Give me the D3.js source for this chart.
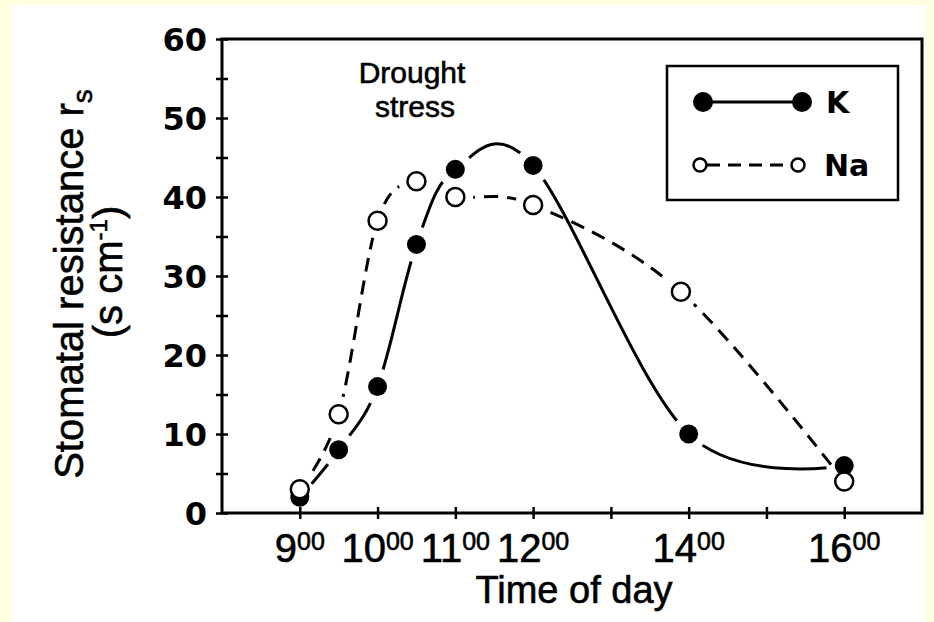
<!DOCTYPE html>
<html lang="en">
<head>
    <meta charset="UTF-8">
    <title>Stomatal resistance</title>
    <script src="https://d3js.org/d3.v7.min.js"></script>
    <style>
      body { margin: 0; background: #ffffe0; }
      svg text { font-family: "Liberation Sans", Arial, Helvetica, sans-serif; fill: #000; }
      svg text.thick { stroke: #000; stroke-width: 0.6px; }
      svg text.wide { font-family: "DejaVu Sans", Verdana, sans-serif; font-weight: bold; }
    </style>
</head>
<body>
<div class="canvas"></div>
<script>
  // data
  const kHours = [9, 9.5, 10, 10.5, 11, 12, 14, 16]
  const kValues = [2, 8, 16, 34, 43.5, 44, 10, 6]
  const naHours = [9, 9.5, 10, 10.5, 11, 12, 13.9, 16]
  const naValues = [3, 12.5, 37, 42, 40, 39, 28, 4]
  const seriesNames = ['K', 'Na']
  const xTicks = [9, 10, 11, 12, 13, 14, 15, 16]
  const xLabels = [9, 10, 11, 12, 14, 16]
  const yTicks = [0, 5, 10, 15, 20, 25, 30, 35, 40, 45, 50, 55, 60]
  const yLabels = [0, 10, 20, 30, 40, 50, 60]

  const svg = d3.select('.canvas')
    .append('svg')
    .attr('width', 934)
    .attr('height', 622)

  svg.append('rect').attr('width', 934).attr('height', 622).attr('fill', '#ffffe0')
  svg.append('rect').attr('x', 12).attr('y', 5).attr('width', 914).attr('height', 617).attr('fill', '#fff')

  const x = d3.scaleLinear().domain([8, 17]).range([222, 922])
  const y = d3.scaleLinear().domain([0, 60]).range([513, 39])

  // y axis, ticks cross the line
  const yAxis = svg.append('g')
    .attr('transform', 'translate(222,0)')
    .call(d3.axisLeft(y).tickValues(yTicks).tickFormat(''))
  yAxis.select('.domain').remove()
  yAxis.selectAll('.tick line').attr('x1', 6).attr('x2', -6).attr('stroke-width', 2.5)

  svg.selectAll('.ylab')
    .data(yLabels)
    .enter()
    .append('text')
    .attr('class', 'ylab wide')
    .attr('x', 207)
    .attr('y', d => y(d))
    .attr('dy', '0.37em')
    .attr('text-anchor', 'end')
    .attr('font-size', 32)
    .text(d => d)

  // x axis
  const xAxis = svg.append('g')
    .attr('transform', 'translate(0,513)')
    .call(d3.axisBottom(x).tickValues(xTicks).tickFormat(''))
  xAxis.select('.domain').remove()
  xAxis.selectAll('.tick line').attr('y1', -6).attr('y2', 6).attr('stroke-width', 2.5)

  const xl = svg.selectAll('.xlab')
    .data(xLabels)
    .enter()
    .append('text')
    .attr('class', 'xlab thick')
    .attr('x', d => x(d))
    .attr('y', 562)
    .attr('text-anchor', 'middle')
    .attr('font-size', 40)
  xl.append('tspan').text(d => d)
  xl.append('tspan').attr('font-size', 25).attr('dy', -12).text('00')

  // frame
  svg.append('rect')
    .attr('x', 222).attr('y', 39)
    .attr('width', 700).attr('height', 474)
    .attr('fill', 'none')
    .attr('stroke', '#000')
    .attr('stroke-width', 3)

  const kData = kHours.map((h, i) => [h, kValues[i]])
  const naData = naHours.map((h, i) => [h, naValues[i]])

  // masks so the curves stop short of their own markers
  const defs = svg.append('defs')
  function makeMask(id, data) {
    const m = defs.append('mask').attr('id', id).attr('maskUnits', 'userSpaceOnUse')
      .attr('x', 0).attr('y', 0).attr('width', 934).attr('height', 622)
    m.append('rect').attr('width', 934).attr('height', 622).attr('fill', '#fff')
    m.selectAll('circle').data(data).enter().append('circle')
      .attr('cx', d => x(d[0])).attr('cy', d => y(d[1])).attr('r', 18).attr('fill', '#000')
  }
  makeMask('mask-k', kData)
  makeMask('mask-na', naData)

  const line = d3.line()
    .x(d => x(d[0]))
    .y(d => y(d[1]))
    .curve(d3.curveCardinal.tension(0))

  svg.append('path')
    .attr('d', line(naData))
    .attr('fill', 'none')
    .attr('stroke', '#000')
    .attr('stroke-width', 3)
    .attr('stroke-dasharray', '14,9')
    .attr('mask', 'url(#mask-na)')

  svg.append('path')
    .attr('d', line(kData))
    .attr('fill', 'none')
    .attr('stroke', '#000')
    .attr('stroke-width', 3)
    .attr('mask', 'url(#mask-k)')

  svg.selectAll('.kdot')
    .data(kData)
    .enter()
    .append('circle')
    .attr('class', 'kdot')
    .attr('cx', d => x(d[0]))
    .attr('cy', d => y(d[1]))
    .attr('r', 9.5)
    .attr('fill', '#000')

  svg.selectAll('.nadot')
    .data(naData)
    .enter()
    .append('circle')
    .attr('class', 'nadot')
    .attr('cx', d => x(d[0]))
    .attr('cy', d => y(d[1]))
    .attr('r', 9)
    .attr('fill', '#fff')
    .attr('stroke', '#000')
    .attr('stroke-width', 2.5)

  // annotation
  svg.append('text').attr('class', 'thick').attr('text-anchor', 'middle')
    .attr('font-size', 30).attr('x', 412).attr('y', 83).text('Drought')
  svg.append('text').attr('class', 'thick').attr('text-anchor', 'middle')
    .attr('font-size', 30).attr('x', 415).attr('y', 117).text('stress')

  // legend
  const lg = svg.append('g')
  lg.append('rect')
    .attr('x', 667).attr('y', 66)
    .attr('width', 231).attr('height', 134)
    .attr('fill', '#fff')
    .attr('stroke', '#000')
    .attr('stroke-width', 2.5)
  // K row
  lg.append('line').attr('x1', 703).attr('x2', 802).attr('y1', 102).attr('y2', 102)
    .attr('stroke', '#000').attr('stroke-width', 3)
  lg.selectAll('.lk').data([703, 802]).enter().append('circle')
    .attr('cx', d => d).attr('cy', 102).attr('r', 10).attr('fill', '#000')
  lg.append('text').attr('class', 'wide').attr('x', 826).attr('y', 113).attr('font-size', 30)
    .text(seriesNames[0])
  // Na row
  lg.append('line').attr('x1', 707).attr('x2', 791).attr('y1', 165).attr('y2', 165)
    .attr('stroke', '#000').attr('stroke-width', 3).attr('stroke-dasharray', '13,8')
  lg.selectAll('.ln').data([700, 798]).enter().append('circle')
    .attr('cx', d => d).attr('cy', 165).attr('r', 6.5)
    .attr('fill', '#fff').attr('stroke', '#000').attr('stroke-width', 2.5)
  lg.append('text').attr('class', 'wide').attr('x', 824).attr('y', 176).attr('font-size', 30)
    .text(seriesNames[1])

  // axis titles
  svg.append('text').attr('class', 'thick').attr('x', 574).attr('y', 603).attr('text-anchor', 'middle')
    .attr('font-size', 38).text('Time of day')

  const t1 = svg.append('text')
    .attr('class', 'thick')
    .attr('transform', 'translate(83,284) rotate(-90)')
    .attr('text-anchor', 'middle')
    .attr('font-size', 40)
  t1.append('tspan').text('Stomatal resistance r')
  t1.append('tspan').attr('font-size', 28).attr('dy', 9).text('s')

  const t2 = svg.append('text')
    .attr('class', 'thick')
    .attr('transform', 'translate(122,272) rotate(-90)')
    .attr('text-anchor', 'middle')
    .attr('font-size', 40)
  t2.append('tspan').text('(s cm')
  t2.append('tspan').attr('font-size', 24).attr('dy', -15).text('-1')
  t2.append('tspan').attr('dy', 15).text(')')
</script>
</body>
</html>
